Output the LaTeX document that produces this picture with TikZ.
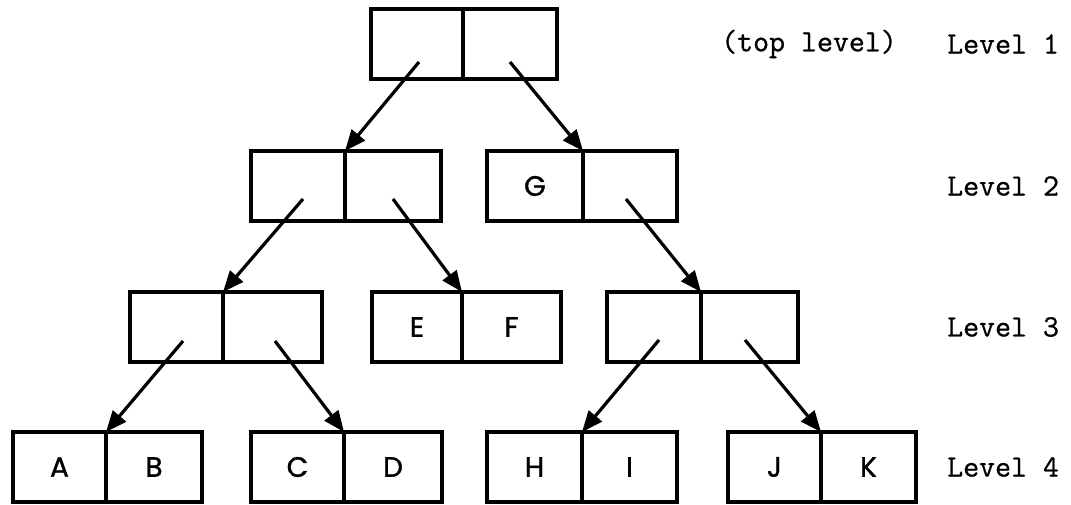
\documentclass[tikz,border=0pt]{standalone}
\usepackage{fontspec}
\newfontfamily\letterfont{Poppins}[FakeBold=1.2]
\newfontfamily\labelfont{Latin Modern Mono}[FakeBold=0.8]
\usetikzlibrary{arrows.meta}
\begin{document}
\begin{tikzpicture}[x=1pt,y=-1pt,
  cell/.style={draw,line width=3.2pt,minimum height=70pt,inner sep=0pt,outer sep=0pt,anchor=north west,
    font=\letterfont\fontsize{28}{30}\selectfont},
  arr/.style={line width=3.2pt,-{Triangle[length=21pt,width=17pt]}},
  lvl/.style={anchor=west,inner sep=0pt,font=\labelfont\fontsize{31}{36}\selectfont}]
\useasboundingbox (0,0) rectangle (1071,505);
% Level 1
\node[cell,minimum width=92pt] (r-l) at (371,9) {};
\node[cell,minimum width=94pt] (r-r) at (463,9) {};
% Level 2
\node[cell,minimum width=94pt] (p-l) at (251,151) {};
\node[cell,minimum width=96pt] (p-r) at (345,151) {};
\node[cell,minimum width=96pt] (g-l) at (487,151) {G};
\node[cell,minimum width=94pt] (g-r) at (583,151) {};
% Level 3
\node[cell,minimum width=93pt] (q-l) at (130,292) {};
\node[cell,minimum width=99pt] (q-r) at (223,292) {};
\node[cell,minimum width=90pt] (e-l) at (372,292) {E};
\node[cell,minimum width=99pt] (e-r) at (462,292) {F};
\node[cell,minimum width=94pt] (s-l) at (607,292) {};
\node[cell,minimum width=97pt] (s-r) at (701,292) {};
% Level 4
\node[cell,minimum width=93pt] (a-l) at (13,432) {A};
\node[cell,minimum width=96pt] (a-r) at (106,432) {B};
\node[cell,minimum width=93pt] (c-l) at (251,432) {C};
\node[cell,minimum width=98pt] (c-r) at (344,432) {D};
\node[cell,minimum width=95pt] (h-l) at (487,432) {H};
\node[cell,minimum width=95pt] (h-r) at (582,432) {I};
\node[cell,minimum width=93pt] (j-l) at (728,432) {J};
\node[cell,minimum width=95pt] (j-r) at (821,432) {K};
% arrow start points
\coordinate (s1) at (419,62);
\coordinate (s2) at (510,62);
\coordinate (s3) at (303,199);
\coordinate (s4) at (393,199);
\coordinate (s5) at (626,199);
\coordinate (s6) at (183,341);
\coordinate (s7) at (275,341);
\coordinate (s8) at (659,340);
\coordinate (s9) at (745,340);
\draw[arr] (s1) -- (p-l.north east);
\draw[arr] (s2) -- (g-l.north east);
\draw[arr] (s3) -- (q-l.north east);
\draw[arr] (s4) -- (e-l.north east);
\draw[arr] (s5) -- (s-l.north east);
\draw[arr] (s6) -- (a-l.north east);
\draw[arr] (s7) -- (c-l.north east);
\draw[arr] (s8) -- (h-l.north east);
\draw[arr] (s9) -- (j-l.north east);
% labels
\node[lvl] (top) at (721,44) {(top level)};
\node[lvl] (lv1) at (947,44) {Level 1};
\node[lvl] (lv2) at (947,186) {Level 2};
\node[lvl] (lv3) at (947,327) {Level 3};
\node[lvl] (lv4) at (947,467) {Level 4};
\end{tikzpicture}
\end{document}
